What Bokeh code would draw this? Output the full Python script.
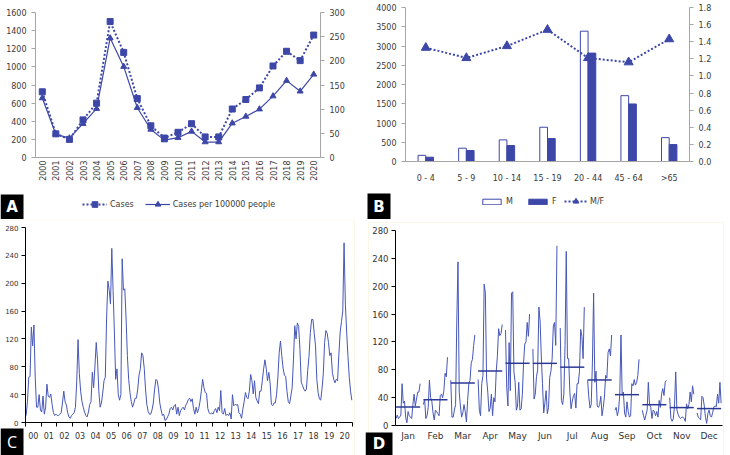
import numpy as np
from bokeh.plotting import figure
from bokeh.models import (Range1d, LinearAxis, Legend, LegendItem, Label, BoxAnnotation,
                          FixedTicker, ColumnDataSource, NumeralTickFormatter)
from bokeh.layouts import column, row
from bokeh.transform import dodge
from bokeh.embed import file_html
from bokeh.resources import INLINE

# ---------------- data ----------------
years = [str(y) for y in range(2000, 2021)]
cases = [725, 261, 200, 415, 600, 1500, 1160, 650, 350, 215, 278, 373, 227, 227,
         535, 640, 768, 1010, 1172, 1069, 1351]
rate = [123, 48, 40, 70, 101, 247, 188, 103, 58, 36, 41, 54, 32, 32,
        71, 85, 100, 127, 159, 137, 172]

age_groups = ["0 - 4", "5 - 9", "10 - 14", "15 - 19", "20 - 44", "45 - 64", ">65"]
male = [160, 345, 561, 890, 3385, 1710, 620]
female = [112, 285, 415, 596, 2815, 1494, 440]
mf_ratio = [1.33, 1.21, 1.35, 1.54, 1.21, 1.16, 1.43]

months = ["Jan", "Feb", "Mar", "Apr", "May", "Jun", "Jul", "Aug", "Sep", "Oct", "Nov", "Dec"]
m2000 = [10, 30, 65, 66, 137, 110, 140, 65, 22, 22, 40, 18]
m2001 = [15, 38, 12, 22, 55, 38, 36, 41, 26, 14, 10, 12]
m2002 = [10, 10, 12, 14, 28, 45, 30, 25, 14, 8, 6, 10]
m2003 = [12, 14, 22, 60, 119, 70, 45, 30, 22, 15, 10, 8]
m2004 = [15, 26, 30, 72, 50, 80, 115, 90, 45, 22, 28, 42]
m2005 = [60, 65, 150, 203, 190, 170, 250, 190, 130, 62, 77, 40]
m2006 = [32, 40, 235, 190, 192, 150, 96, 62, 43, 30, 22, 28]
m2007 = [35, 35, 48, 68, 77, 100, 96, 78, 48, 26, 16, 12]
m2008 = [12, 18, 28, 48, 62, 60, 48, 28, 18, 10, 12, 3]
m2009 = [4, 8, 12, 20, 22, 18, 24, 26, 12, 22, 10, 17]
m2010 = [20, 22, 18, 25, 28, 33, 35, 30, 34, 20, 12, 22]
m2011 = [14, 20, 30, 45, 62, 50, 43, 42, 20, 14, 12, 14]
m2012 = [12, 17, 20, 14, 22, 17, 46, 14, 12, 20, 10, 12]
m2013 = [10, 14, 5, 40, 24, 26, 25, 26, 14, 12, 6, 19]
m2014 = [30, 43, 36, 34, 45, 69, 60, 41, 60, 36, 31, 27]
m2015 = [45, 45, 60, 77, 90, 78, 60, 72, 57, 26, 24, 28]
m2016 = [28, 40, 65, 100, 117, 96, 78, 68, 66, 45, 30, 27]
m2017 = [38, 50, 90, 139, 120, 143, 138, 105, 58, 53, 48, 45]
m2018 = [48, 75, 95, 129, 148, 148, 128, 110, 62, 43, 34, 32]
m2019 = [48, 70, 115, 132, 128, 115, 96, 100, 72, 62, 57, 62]
m2020 = [60, 98, 130, 145, 160, 258, 170, 130, 95, 65, 45, 32]
monthly = [m2000, m2001, m2002, m2003, m2004, m2005, m2006, m2007, m2008, m2009, m2010,
           m2011, m2012, m2013, m2014, m2015, m2016, m2017, m2018, m2019, m2020]

BLUE = "#3d47a8"
LINE = "#4757b8"
FONT = "DejaVu Sans"
GRAY = "#a6a6a6"


def ext_range(W, L, R, a0, a1):
    s = (a1 - a0) / (R - L)
    return Range1d(a0 - L * s, a1 + (W - R) * s)


def ext_yrange(H, T, B, a0, a1):
    s = (a1 - a0) / (B - T)
    return Range1d(a0 - (H - B) * s, a1 + T * s)


def make_fig(W, H, L, R, T, B, xd, yd):
    p = figure(width=W, height=H, x_range=ext_range(W, L, R, *xd),
               y_range=ext_yrange(H, T, B, *yd), output_backend="svg",
               toolbar_location=None, x_axis_location=None, y_axis_location=None,
               min_border=0)
    p.grid.visible = False
    p.outline_line_color = None
    return p


def style_axis(ax, color, size="8px", label_color="#3a3a3a"):
    ax.axis_line_color = color
    ax.major_tick_line_color = color
    ax.minor_tick_line_color = None
    ax.major_label_text_font = FONT
    ax.major_label_text_font_size = size
    ax.major_label_text_color = label_color
    ax.major_tick_in = 0
    ax.major_tick_out = 4


def letter(p, txt, l, r, b, t, font="DejaVu Sans", style="bold", size="15px"):
    p.add_layout(BoxAnnotation(left=l, right=r, bottom=b, top=t, left_units="screen",
                               right_units="screen", bottom_units="screen", top_units="screen",
                               fill_color="black", fill_alpha=1, line_color=None))
    p.add_layout(Label(x=(l + r) / 2, y=(b + t) / 2, x_units="screen", y_units="screen",
                       text=txt, text_align="center", text_baseline="middle",
                       text_color="white", text_font=font, text_font_style=style,
                       text_font_size=size))


def panel_border(p, l, r, b, t):
    p.add_layout(BoxAnnotation(left=l, right=r, bottom=b, top=t, left_units="screen",
                               right_units="screen", bottom_units="screen", top_units="screen",
                               fill_color=None, fill_alpha=0, line_color="#f2e6ae",
                               line_width=1))


def make_legend(items, loc, gw, gh, spacing, lw=20):
    return Legend(items=items, orientation="horizontal", location=loc, background_fill_alpha=0,
                  border_line_color=None, label_text_font=FONT, label_text_font_size="8px",
                  label_text_color="#3a3a3a", glyph_width=gw, glyph_height=gh, label_height=10,
                  label_width=lw, spacing=spacing, padding=0, margin=0, label_standoff=3)


# ---------------- panel A ----------------
WA, HA = 365, 219
pA = make_fig(WA, HA, 35, 320, 12, 157, (0, 21), (0, 1600))
pA.extra_y_ranges = {"r": ext_yrange(HA, 12, 157, 0, 300)}
xa = [i + 0.5 for i in range(len(years))]
srcA = ColumnDataSource(dict(x=xa, cases=cases, rate=rate))
lc = pA.line("x", "cases", source=srcA, color=BLUE, line_width=2, line_dash="2 2")
sc = pA.scatter("x", "cases", source=srcA, marker="square", size=6, color=BLUE)
lr = pA.line("x", "rate", source=srcA, y_range_name="r", color=BLUE, line_width=1.2)
sr = pA.scatter("x", "rate", source=srcA, y_range_name="r", marker="triangle", size=6, color=BLUE)
axAl = LinearAxis(fixed_location=0, bounds=(0, 1600), ticker=FixedTicker(ticks=list(range(0, 1601, 200))))
axAr = LinearAxis(y_range_name="r", fixed_location=21, bounds=(0, 300),
                  ticker=FixedTicker(ticks=list(range(0, 301, 50))))
axAb = LinearAxis(fixed_location=0, bounds=(0, 21), ticker=FixedTicker(ticks=xa))
axAb.major_label_overrides = {x: y for x, y in zip(xa, years)}
pA.add_layout(axAl, "left")
pA.add_layout(axAr, "right")
pA.add_layout(axAb, "below")
for ax in [axAl, axAr, axAb]:
    style_axis(ax, GRAY)
axAb.major_tick_out = 0
axAb.major_label_orientation = np.pi / 2
axAb.major_label_standoff = 3
pA.add_layout(make_legend([LegendItem(label="Cases", renderers=[lc, sc]),
                           LegendItem(label="Cases per 100000 people", renderers=[lr, sr])],
                          (82, 8), 25, 14, 11))
letter(pA, "A", 0, 23, 0, 25)

# ---------------- panel B ----------------
WB, HB = 365, 219
pB = make_fig(WB, HB, 40, 324, 7, 161, (0, 7), (0, 4000))
pB.extra_y_ranges = {"r": ext_yrange(HB, 7, 161, 0, 1.8)}
xb = [i + 0.5 for i in range(len(age_groups))]
srcB = ColumnDataSource(dict(x=xb, m=male, f=female, r=mf_ratio))
bm = pB.vbar(x=dodge("x", -0.095), top="m", width=0.19, source=srcB,
             fill_color="white", line_color=BLUE, line_width=1)
bf = pB.vbar(x=dodge("x", 0.095), top="f", width=0.19, source=srcB,
             fill_color=BLUE, line_color=BLUE, line_width=1)
lrB = pB.line("x", "r", source=srcB, y_range_name="r", color=BLUE, line_width=2, line_dash="2 2")
srB = pB.scatter("x", "r", source=srcB, y_range_name="r", marker="triangle", size=9, color=BLUE)
axBl = LinearAxis(fixed_location=0, bounds=(0, 4000), ticker=FixedTicker(ticks=list(range(0, 4001, 500))))
axBr = LinearAxis(y_range_name="r", fixed_location=7, bounds=(0, 1.8),
                  ticker=FixedTicker(ticks=[i / 5 for i in range(10)]),
                  formatter=NumeralTickFormatter(format="0.0"))
axBb = LinearAxis(fixed_location=0, bounds=(0, 7), ticker=FixedTicker(ticks=xb))
axBb.major_label_overrides = {x: g for x, g in zip(xb, age_groups)}
pB.add_layout(axBl, "left")
pB.add_layout(axBr, "right")
pB.add_layout(axBb, "below")
for ax in [axBl, axBr, axBb]:
    style_axis(ax, GRAY)
axBb.major_tick_out = 0
axBb.major_label_standoff = 12
pB.add_layout(make_legend([LegendItem(label="M", renderers=[bm]),
                           LegendItem(label="F", renderers=[bf])],
                          (115, 13), 23, 7, 12, lw=8))
pB.add_layout(make_legend([LegendItem(label="M/F", renderers=[lrB, srB])],
                          (199, 11), 23, 14, 10))
letter(pB, "B", 2, 25, 0, 26)

# ---------------- panel C ----------------
WC, HC = 365, 236
pC = make_fig(WC, HC, 25, 352, 8, 203, (2000, 2021), (0, 280))
xs_c, ys_c = [], []
for i, vals in enumerate(monthly):
    for m, v in enumerate(vals):
        xs_c.append(2000 + i + (m + 0.5) / 12)
        ys_c.append(v)
pC.line(xs_c, ys_c, color=LINE, line_width=1)
axCl = LinearAxis(fixed_location=2000, bounds=(0, 280), ticker=FixedTicker(ticks=list(range(0, 281, 40))))
mids = [2000 + i + 0.5 for i in range(21)]
axCb = LinearAxis(fixed_location=0, bounds=(2000, 2021),
                  ticker=FixedTicker(ticks=mids, minor_ticks=list(range(2000, 2022))))
axCb.major_label_overrides = {m: "%02d" % (int(m) - 2000) for m in mids}
pC.add_layout(axCl, "left")
pC.add_layout(axCb, "below")
style_axis(axCl, "black", size="7px", label_color="#333333")
axCl.major_label_standoff = 3
style_axis(axCb, "black", size="8px", label_color="#333333")
axCb.major_tick_out = 0
axCb.minor_tick_line_color = "black"
axCb.minor_tick_out = 4
axCb.minor_tick_in = 0
axCb.major_label_standoff = 5
panel_border(pC, -2, 354, -2, 235.5)
letter(pC, "C", 0, 23, 0, 27, font="Open Sans", style="normal", size="16px")

# ---------------- panel D ----------------
WD, HD = 365, 236
pD = make_fig(WD, HD, 30, 357, 11, 206, (0, 11.95), (0, 280))
xs_d, ys_d, means = [], [], []
for m in range(12):
    xs_d.append([m + 0.02 + 0.88 * i / 20 for i in range(21)])
    col = [monthly[i][m] for i in range(21)]
    ys_d.append(col)
    means.append(float(np.mean(col)))
pD.multi_line(xs_d, ys_d, color=LINE, line_width=1)
pD.segment(x0=[m + 0.02 for m in range(12)], x1=[m + 0.90 for m in range(12)],
           y0=means, y1=means, color="#2b3896", line_width=1.5)
axDl = LinearAxis(fixed_location=0, bounds=(0, 280), ticker=FixedTicker(ticks=list(range(0, 281, 40))))
mpos = [m + 0.46 for m in range(12)]
axDb = LinearAxis(fixed_location=0, bounds=(0, 11.95), ticker=FixedTicker(ticks=mpos))
axDb.major_label_overrides = {p: months[i] for i, p in enumerate(mpos)}
pD.add_layout(axDl, "left")
pD.add_layout(axDb, "below")
style_axis(axDl, "black", size="8.5px", label_color="#333333")
axDl.major_label_standoff = 3
style_axis(axDb, "black", size="9px", label_color="#333333")
axDb.major_tick_out = 0
axDb.major_label_standoff = 5
panel_border(pD, 3, 358, -2, 233)
letter(pD, "D", 0, 27, 0, 23)

layout = column(row(pA, pB), row(pC, pD))
open("out.html", "w").write(file_html(layout, INLINE))
